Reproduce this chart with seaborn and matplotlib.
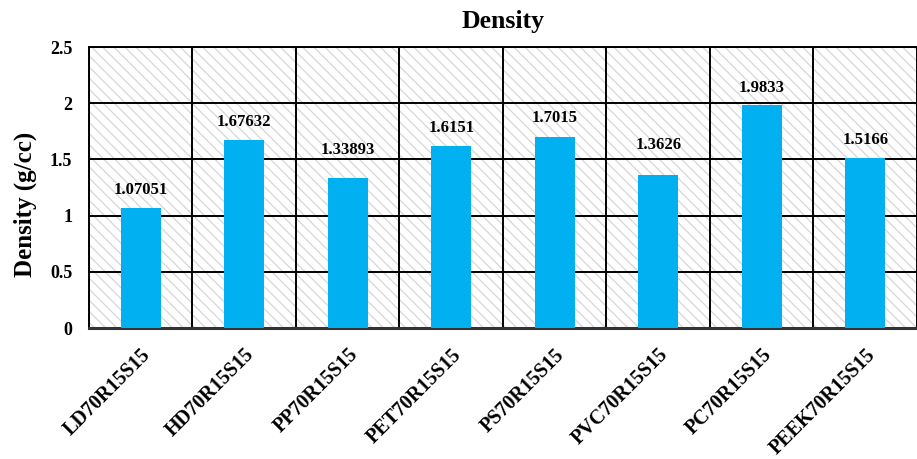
import matplotlib
matplotlib.use("Agg")
import matplotlib.pyplot as plt
from matplotlib.patches import Rectangle
from matplotlib.ticker import MultipleLocator
import seaborn as sns
import pandas as pd

# Composite densities
samples = ["LD70R15S15", "HD70R15S15", "PP70R15S15", "PET70R15S15",
           "PS70R15S15", "PVC70R15S15", "PC70R15S15", "PEEK70R15S15"]
density = [1.07051, 1.67632, 1.33893, 1.6151, 1.7015, 1.3626, 1.9833, 1.5166]
value_labels = ["1.07051", "1.67632", "1.33893", "1.6151",
                "1.7015", "1.3626", "1.9833", "1.5166"]
y_ticks = [0, 0.5, 1, 1.5, 2, 2.5]
y_tick_labels = ["0", "0.5", "1", "1.5", "2", "2.5"]

# vertical offset (points) of each value label above its bar,
# raised for the two labels that would otherwise sit on a gridline
label_offsets = [13, 13, 20, 13.5, 13.5, 21.5, 12.5, 12.5]

sns.set_theme(style="white")
plt.rcParams["font.family"] = ["Liberation Serif", "DejaVu Serif"]
plt.rcParams["font.weight"] = "bold"
plt.rcParams["text.color"] = "black"
plt.rcParams["xtick.color"] = "black"
plt.rcParams["ytick.color"] = "black"
plt.rcParams["axes.labelcolor"] = "black"
plt.rcParams["hatch.linewidth"] = 0.9

df = pd.DataFrame({"sample": samples, "density": density})

fig = plt.figure(figsize=(9.17, 4.59), dpi=100)
ax = fig.add_axes([0.097, 0.2854, 0.903, 0.6122])

# hatched background panel
bg = Rectangle((0, 0), 1, 1, transform=ax.transAxes, facecolor="white",
               edgecolor="#d6d6d6", linewidth=0, hatch="\\\\\\", zorder=0)
ax.add_patch(bg)
ax.set_facecolor("white")

sns.barplot(data=df, x="sample", y="density", color="#00B0F0",
            saturation=1, width=0.39, ax=ax, linewidth=0, edgecolor="none")
for bar in ax.patches:
    if bar is not bg:
        bar.set_zorder(3)

ax.set_xlim(-0.5, len(samples) - 0.5)
ax.set_ylim(0, 2.5)
ax.set_yticks(y_ticks)
ax.set_yticklabels(y_tick_labels, fontsize=13, fontweight="bold")
ax.xaxis.set_minor_locator(MultipleLocator(1, offset=0.5))
ax.set_xticks(range(len(samples)))
ax.set_xticklabels(samples, rotation=45, ha="right", rotation_mode="anchor",
                   fontsize=14.5, fontweight="bold")

ax.grid(axis="y", which="major", color="black", linewidth=1.4, zorder=1)
ax.grid(axis="x", which="minor", color="black", linewidth=1.4, zorder=1)
ax.grid(axis="x", which="major", visible=False)
ax.set_axisbelow(True)
ax.tick_params(axis="both", which="both", length=0)
ax.tick_params(axis="y", pad=12)
ax.tick_params(axis="x", pad=12)

for side in ["left", "top"]:
    ax.spines[side].set_visible(True)
    ax.spines[side].set_color("black")
    ax.spines[side].set_linewidth(1.4)
ax.spines["bottom"].set_color("#333333")
ax.spines["bottom"].set_linewidth(2.2)
ax.spines["right"].set_visible(False)

for i, (v, lab, off) in enumerate(zip(density, value_labels, label_offsets)):
    ax.annotate(lab, xy=(i, v), xytext=(0, off), textcoords="offset points",
                ha="center", va="center", fontsize=12, fontweight="bold",
                color="black", zorder=5)

ax.set_xlabel("")
ax.set_ylabel("Density (g/cc)", fontsize=18, fontweight="bold")
ax.yaxis.set_label_coords(-0.063, 0.44)
ax.set_title("Density", fontsize=18.5, fontweight="bold", pad=14, color="black")

fig.savefig("out.png", dpi=100)
